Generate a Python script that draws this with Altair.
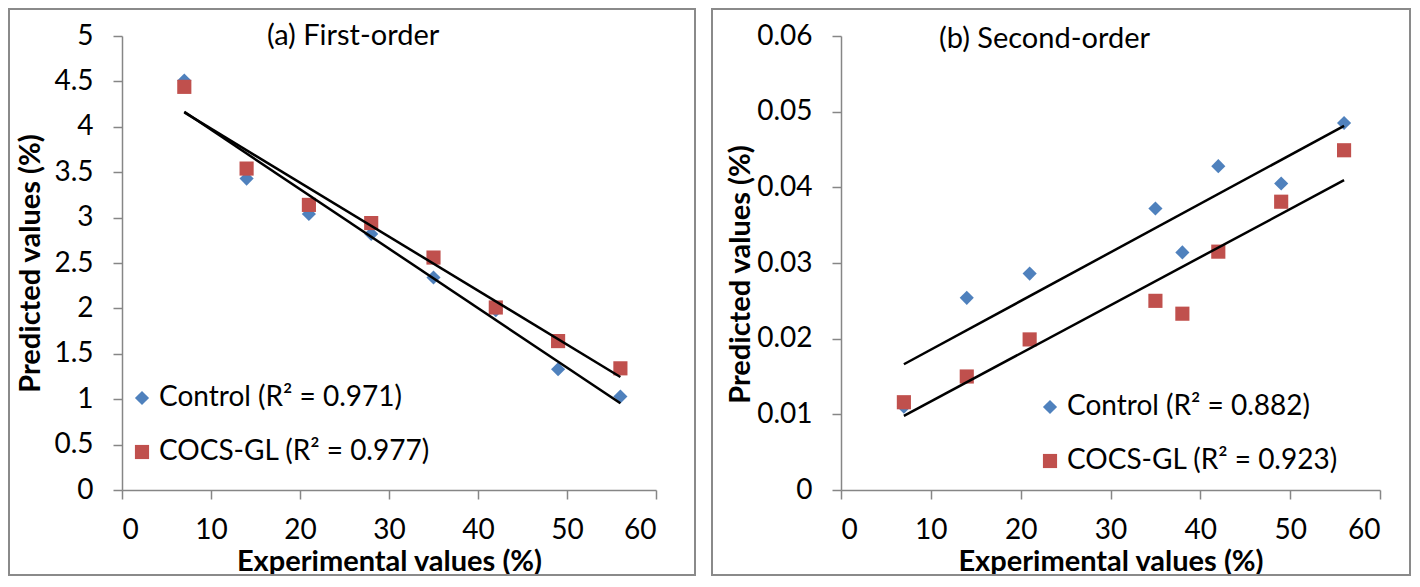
import altair as alt
import pandas as pd

# ---------------- data ----------------
x_a = [7, 14, 21, 28, 35, 42, 49, 56]
control_a = [4.51, 3.43, 3.04, 2.82, 2.34, 1.98, 1.33, 1.03]
cocs_a = [4.44, 3.54, 3.14, 2.94, 2.56, 2.01, 1.64, 1.34]

x_b = [7, 14, 21, 35, 38, 42, 49, 56]
control_b = [0.0110, 0.0254, 0.0286, 0.0372, 0.0314, 0.0428, 0.0405, 0.0485]
cocs_b = [0.0116, 0.0150, 0.0199, 0.0250, 0.0233, 0.0315, 0.0381, 0.0449]

series_names = ["Control", "COCS-GL"]
r2_a = ["0.971", "0.977"]
r2_b = ["0.882", "0.923"]
panel_titles = ["(a) First-order", "(b) Second-order"]
x_title = "Experimental values (%)"
y_title = "Predicted values (%)"
x_ticks = [0, 10, 20, 30, 40, 50, 60]
y_ticks_a = [0, 0.5, 1, 1.5, 2, 2.5, 3, 3.5, 4, 4.5, 5]
y_ticks_b = [0, 0.01, 0.02, 0.03, 0.04, 0.05, 0.06]

# ---------------- styles ----------------
FONT = "Lato"
LABEL_SIZE = 28
TITLE_SIZE = 29
AXIS_GRAY = "#868686"
FRAME_GRAY = "#8a8a8a"
COLORS = ["#4F81BD", "#C0504D"]
SHAPES = ["diamond", "square"]


def make_panel(xs, ys_control, ys_cocs, r2s, title, y_ticks, width, height,
               frame, title_dx, title_offset, ytitle_x, ytitle_y,
               legend_x, legend_y):
    labels = [f"{n} (R\u00b2 = {r})" for n, r in zip(series_names, r2s)]
    df = pd.DataFrame({
        "x": list(xs) + list(xs),
        "y": list(ys_control) + list(ys_cocs),
        "series": [labels[0]] * len(xs) + [labels[1]] * len(xs),
    })
    legend = alt.Legend(
        orient="none", legendX=legend_x, legendY=legend_y, title=None,
        labelFont=FONT, labelFontSize=LABEL_SIZE, labelColor="black",
        labelOffset=3, rowPadding=26, symbolSize=200, symbolStrokeWidth=0,
        padding=0, labelLimit=400,
    )
    x_enc = alt.X(
        "x:Q",
        scale=alt.Scale(domain=[x_ticks[0], x_ticks[-1]], nice=False, zero=False),
        axis=alt.Axis(values=x_ticks, format="~g", title=x_title,
                      titleY=71, titleBaseline="middle"),
    )
    y_enc = alt.Y(
        "y:Q",
        scale=alt.Scale(domain=[y_ticks[0], y_ticks[-1]], nice=False),
        axis=alt.Axis(values=y_ticks, format="~g", title=y_title,
                      titleX=ytitle_x, titleY=ytitle_y,
                      titleBaseline="middle", titleAngle=270),
    )
    color = alt.Color("series:N", scale=alt.Scale(domain=labels, range=COLORS),
                      legend=legend)
    shape = alt.Shape("series:N", scale=alt.Scale(domain=labels, range=SHAPES),
                      legend=legend)
    base = alt.Chart(df)
    points = base.mark_point(filled=True, size=200, opacity=1).encode(
        x=x_enc, y=y_enc, color=color, shape=shape
    )
    trend = base.transform_regression("x", "y", groupby=["series"]).mark_line(
        color="black", strokeWidth=2.5
    ).encode(x="x:Q", y="y:Q", detail="series:N")
    fx0, fx1, fy0, fy1 = frame
    border = alt.Chart(pd.DataFrame({"frame": [0]})).mark_rect(
        fillOpacity=0, stroke=FRAME_GRAY, strokeWidth=2
    ).encode(x=alt.value(fx0), x2=alt.value(fx1), y=alt.value(fy0), y2=alt.value(fy1))
    return alt.layer(border, points, trend).properties(
        width=width, height=height,
        title=alt.TitleParams(
            title, anchor="start", frame="group", dx=title_dx,
            offset=title_offset, fontSize=TITLE_SIZE, font=FONT,
            fontWeight="normal", color="black", baseline="alphabetic",
        ),
    )


W_A, H_A = 534, 454
W_B, H_B = 539, 454

panel_a = make_panel(
    x_a, control_a, cocs_a, r2_a, panel_titles[0], y_ticks_a, W_A, H_A,
    frame=(-113, W_A + 39, -27, H_A + 85),
    title_dx=145, title_offset=-66,
    ytitle_x=-92, ytitle_y=H_A / 2,
    legend_x=6, legend_y=348,
)
panel_b = make_panel(
    x_b, control_b, cocs_b, r2_b, panel_titles[1], y_ticks_b, W_B, H_B,
    frame=(-129, W_B + 30, -27, H_B + 85),
    title_dx=98, title_offset=-68.5,
    ytitle_x=-101, ytitle_y=238,
    legend_x=195, legend_y=357,
)

chart = alt.hconcat(panel_a, panel_b, spacing=15).resolve_scale(
    x="independent", y="independent", color="independent", shape="independent"
).resolve_legend(
    color="independent", shape="independent"
).configure_axis(
    grid=False, domainColor=AXIS_GRAY, domainWidth=1.5, tickColor=AXIS_GRAY,
    tickWidth=1.5, tickSize=9, labelFont=FONT, labelFontSize=LABEL_SIZE,
    labelColor="black", titleFont=FONT, titleFontSize=TITLE_SIZE,
    titleFontWeight="bold", titleColor="black",
).configure_axisX(labelPadding=17).configure_axisY(labelPadding=20).configure_view(
    strokeOpacity=0
).properties(padding=0, background="white")

chart.save("out.html", embed_options={"renderer": "svg", "actions": False})
